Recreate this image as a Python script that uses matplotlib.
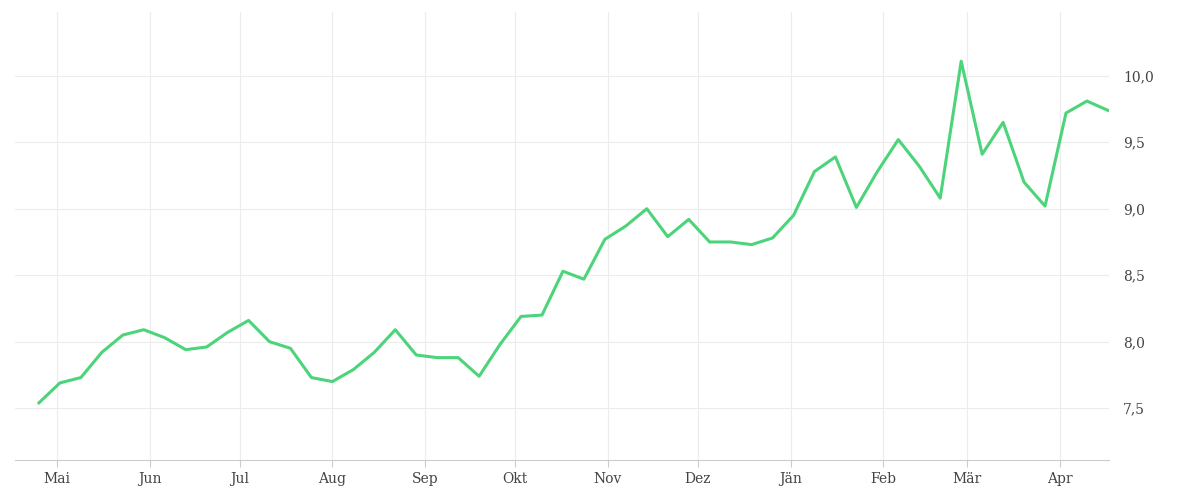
import matplotlib.pyplot as plt
import matplotlib.dates as mdates
import pandas as pd

values = [7.54, 7.69, 7.73, 7.92, 8.05, 8.09, 8.03, 7.94, 7.96, 8.07, 8.16, 8.00,
          7.95, 7.73, 7.70, 7.79, 7.92, 8.09, 7.90, 7.88, 7.88, 7.74, 7.98, 8.19,
          8.20, 8.53, 8.47, 8.77, 8.87, 9.00, 8.79, 8.92, 8.75, 8.75, 8.73, 8.78,
          8.95, 9.28, 9.39, 9.01, 9.28, 9.52, 9.32, 9.08, 10.11, 9.41, 9.65, 9.20,
          9.02, 9.72, 9.81, 9.74]
dates = pd.date_range("2021-04-25", periods=len(values), freq="7D")
month_labels = ["Mai", "Jun", "Jul", "Aug", "Sep", "Okt", "Nov", "Dez",
                "Jän", "Feb", "Mär", "Apr"]
month_ticks = pd.date_range("2021-05-01", periods=12, freq="MS")
y_ticks = [7.5, 8.0, 8.5, 9.0, 9.5, 10.0]

fig = plt.figure(figsize=(12, 5), dpi=100)
ax = fig.add_axes([0.0125, 0.08, 0.912, 0.896])
ax.plot(dates, values, color="#4cd47a", lw=2.2)

ax.set_xlim(pd.Timestamp("2021-04-17"), dates[-1] + pd.Timedelta(days=0.5))
ax.set_ylim(7.11, 10.48)
ax.set_xticks(month_ticks)
ax.set_xticklabels(month_labels)
ax.set_yticks(y_ticks)
ax.set_yticklabels([f"{v:.1f}".replace(".", ",") for v in y_ticks])
ax.yaxis.tick_right()
ax.grid(True, color="#ececec", lw=0.8)
for s in ["top", "left", "right"]:
    ax.spines[s].set_visible(False)
ax.spines["bottom"].set_color("#cccccc")
ax.tick_params(axis="y", length=0, pad=10, labelsize=10, labelcolor="#444444")
ax.tick_params(axis="x", length=5, color="#cccccc", labelsize=10, labelcolor="#444444")
for lbl in ax.get_xticklabels() + ax.get_yticklabels():
    lbl.set_family("DejaVu Serif")

fig.savefig("out.png")
